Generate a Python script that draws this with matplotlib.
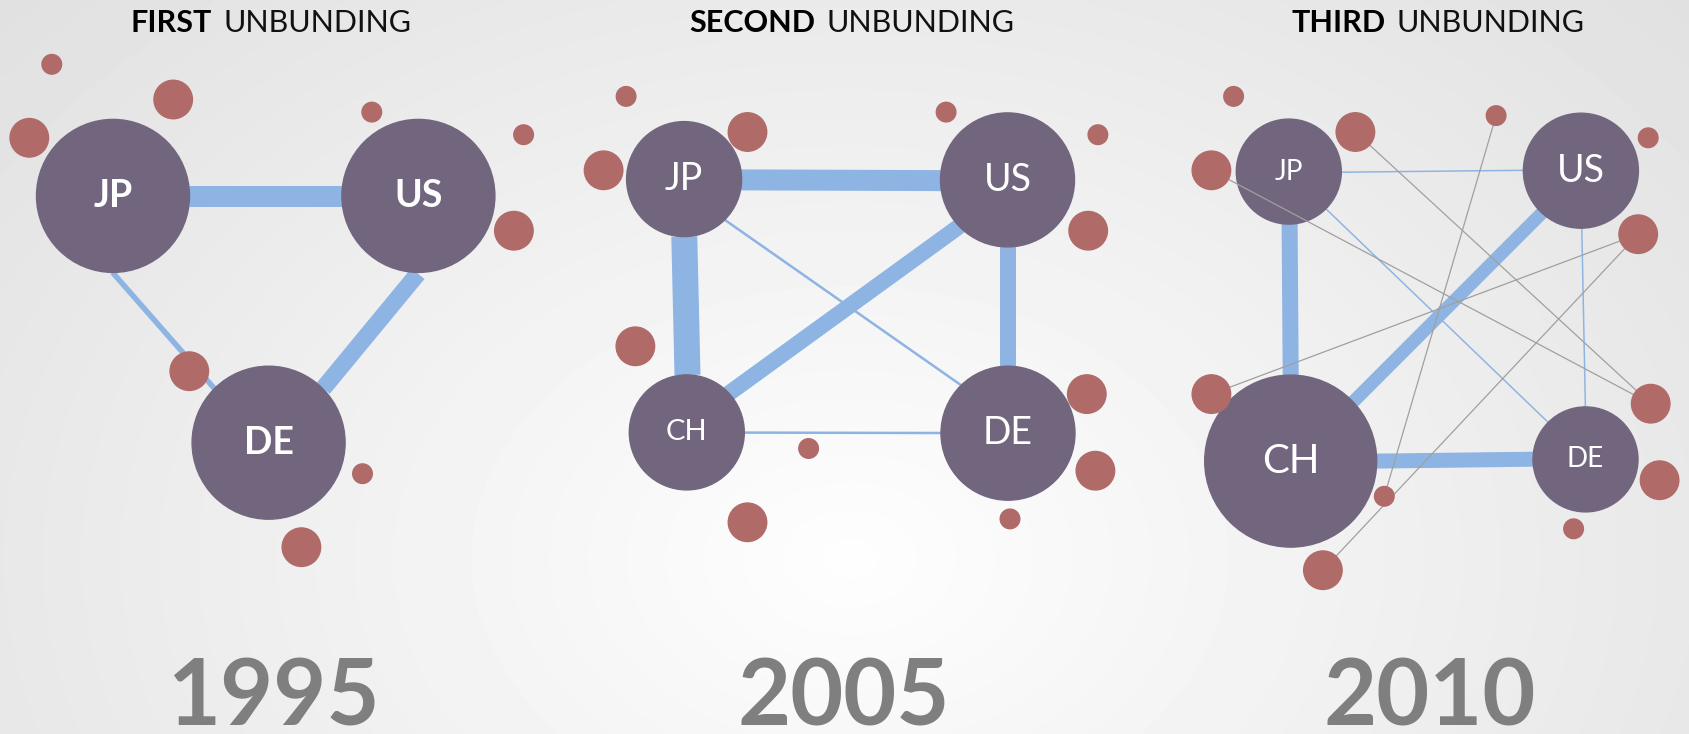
import matplotlib.pyplot as plt
from matplotlib.patches import Circle
import numpy as np

# canvas in pixel units of the reference
W, H = 1690, 734

NODE = '#72667F'
DOT = '#B06B69'
EDGE = '#8DB4E2'
GRAY = '#A0A0A0'
YEARCOL = '#7F7F7F'

titles_bold = ['FIRST', 'SECOND', 'THIRD']
titles_rest = ['UNBUNDING', 'UNBUNDING', 'UNBUNDING']
title_x = [271, 852, 1438]
years = ['1995', '2005', '2010']
year_x = [273, 844, 1430]

# nodes: label, x, y, diameter, label size
p1_labels = ['JP', 'US', 'DE']
p1_x = [113, 418.4, 268.6]
p1_y = [195.9, 195.9, 442.7]
p1_size = [153, 153, 153]
p1_font = [27, 27, 27]

p2_labels = ['JP', 'US', 'CH', 'DE']
p2_x = [684.1, 1007.5, 686.8, 1008]
p2_y = [179.1, 179.9, 432.4, 433.2]
p2_size = [115, 134, 115, 134]
p2_font = [27, 27, 21, 27]

p3_labels = ['JP', 'US', 'CH', 'DE']
p3_x = [1288.8, 1580.9, 1290.7, 1585.5]
p3_y = [171.6, 170.7, 461.1, 459.4]
p3_size = [105, 115, 172, 105]
p3_font = [20, 27, 29, 20]

# links: (x0, y0, x1, y1, width px)
p1_links = [(189, 196, 342, 196, 21),
            (112.5, 272.4, 214.3, 388.4, 5.5),
            (417.9, 273.6, 323.2, 388.4, 17)]
p2_links = [(741, 179.9, 941, 180.6, 21),
            (684.3, 236.5, 687.5, 375, 26),
            (960, 225.8, 727.9, 394.1, 16),
            (1008.2, 246.8, 1008.2, 366.2, 16),
            (725, 220, 961.8, 385.7, 2.5),
            (744, 432.6, 941, 433, 2.5)]
p3_links = [(1289.6, 223.9, 1290.7, 375, 16),
            (1542.5, 212.4, 1353.2, 401.8, 13),
            (1377, 461.1, 1533, 459.2, 15),
            (1341.4, 172.2, 1523.6, 170.3, 1.5),
            (1325.7, 208.6, 1548.6, 422.8, 1.5),
            (1581.8, 228.1, 1585.4, 406.8, 1.5)]

# satellite dots: x, y, diameter
p1_dots = [(51.8, 64.3, 19.6), (173.2, 99.5, 38.5), (29.3, 137.8, 38.5),
           (371.8, 112.1, 19.6), (523.6, 134.7, 19.6), (513.9, 230.7, 38.5),
           (189.3, 371.2, 38.5), (362.5, 473.7, 19.6), (301.4, 547.2, 38.5)]
p2_dots = [(626.1, 96.4, 19.6), (747.5, 132, 38.5), (603.6, 170.3, 38.5),
           (946.1, 112.1, 19.6), (1097.9, 134.7, 19.6), (1088.2, 230.7, 38.5),
           (635.4, 346.3, 38.5), (1086.8, 394.1, 38.5), (808.6, 448.5, 19.6),
           (1095.4, 470.7, 38.5), (747.5, 522.3, 38.5), (1010, 518.9, 19.6)]
p3_dots = [(1233.6, 96.4, 19.6), (1355.4, 132, 38.5), (1211.4, 170.3, 38.5),
           (1496.1, 115.6, 19.6), (1648.2, 137.8, 19.6), (1638.2, 234.2, 38.5),
           (1211.4, 394.1, 38.5), (1650.7, 403.7, 38.5), (1659.6, 480.2, 38.5),
           (1384.3, 496.3, 19.6), (1573.6, 528.8, 19.6), (1322.9, 570.2, 38.5)]
# thin gray links between dots of panel 3 (dot indices)
p3_gray = [(1, 7), (2, 7), (3, 9), (6, 5), (11, 5)]

fig = plt.figure(figsize=(W / 100, H / 100), dpi=100)
ax = fig.add_axes([0, 0, 1, 1])
ax.set_xlim(0, W)
ax.set_ylim(H, 0)
ax.axis('off')

# radial background
gx, gy = np.meshgrid(np.linspace(0, W, 340), np.linspace(0, H, 150))
d = np.sqrt(((gx - 850) / 900) ** 2 + ((gy - 560) / 650) ** 2)
shade = np.clip(0.995 - 0.09 * d, 0.875, 1)
ax.imshow(shade, cmap='gray', vmin=0, vmax=1, extent=(0, W, H, 0),
          aspect='auto', zorder=0, interpolation='bilinear')

panels = [
    (p1_labels, p1_x, p1_y, p1_size, p1_font, p1_links, p1_dots, 'bold'),
    (p2_labels, p2_x, p2_y, p2_size, p2_font, p2_links, p2_dots, 'normal'),
    (p3_labels, p3_x, p3_y, p3_size, p3_font, p3_links, p3_dots, 'normal'),
]

for labels, xs, ys, sizes, fonts, links, dots, weight in panels:
    for x0, y0, x1, y1, lw in links:
        ax.plot([x0, x1], [y0, y1], color=EDGE, lw=lw * 0.72,
                solid_capstyle='butt', zorder=1)
    for lab, x, y, s, fs in zip(labels, xs, ys, sizes, fonts):
        ax.add_patch(Circle((x, y), s / 2, color=NODE, zorder=2))
        ax.text(x, y, lab, color='white', fontsize=fs, family='Lato',
                fontweight=weight, ha='center', va='center', zorder=4)
    for x, y, s in dots:
        ax.add_patch(Circle((x, y), s / 2, color=DOT, zorder=3))

for a, b in p3_gray:
    ax.plot([p3_dots[a][0], p3_dots[b][0]], [p3_dots[a][1], p3_dots[b][1]],
            color=GRAY, lw=0.9, zorder=2.5)

# titles: bold word + regular word, centred together
r = fig.canvas.get_renderer()
for tb, tr, cx in zip(titles_bold, titles_rest, title_x):
    t1 = ax.text(0, 32, tb, fontsize=22, family='Lato', fontweight='bold',
                 color='black', va='baseline', ha='left')
    t2 = ax.text(0, 32, tr, fontsize=22, family='Lato', fontweight='normal',
                 color='#111111', va='baseline', ha='left')
    w1 = t1.get_window_extent(r).width
    w2 = t2.get_window_extent(r).width
    gap = 11
    left = cx - (w1 + gap + w2) / 2
    t1.set_x(left)
    t2.set_x(left + w1 + gap)

for yr, cx in zip(years, year_x):
    ax.text(cx, 726, yr, fontsize=66, family='Lato', fontweight='bold',
            color=YEARCOL, ha='center', va='baseline')

plt.savefig('out.png', dpi=100)
